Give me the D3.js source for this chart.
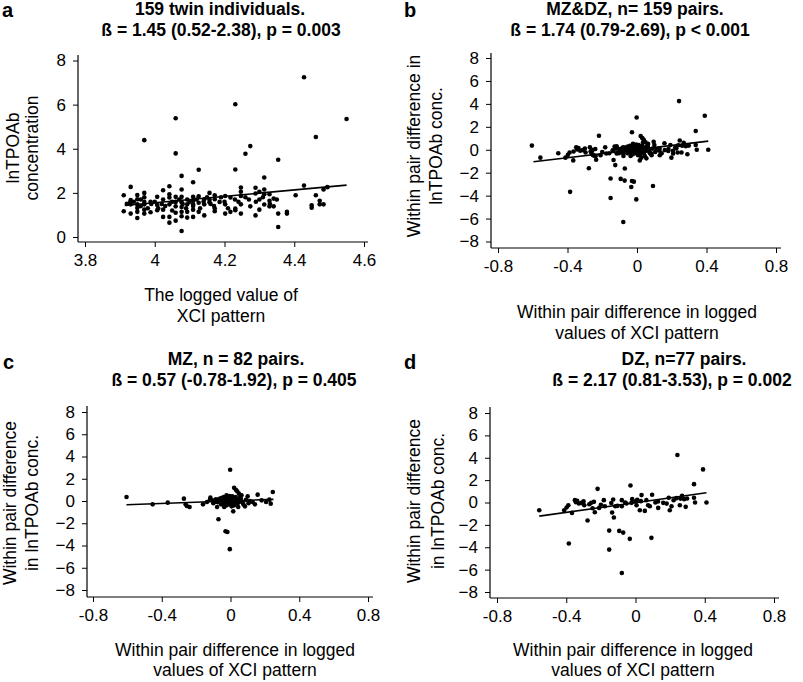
<!DOCTYPE html>
<html><head><meta charset="utf-8">
<script src="https://cdn.jsdelivr.net/npm/d3@7"></script>
<style>
body{margin:0;background:#fff}
svg{display:block}
text{font-family:"Liberation Sans",Arial,Helvetica,sans-serif;fill:#000}
</style>
</head><body>
<svg id="chart" width="803" height="682"></svg>
<script>
// ---------- DATA ----------
// Panel a: 159 twin individuals (x = logged XCI pattern, y = lnTPOAb concentration)
const xA = [3.911,3.911,3.931,3.931,3.931,3.931,3.929,3.950,3.950,3.950,3.950,3.950,3.970,3.970,3.970,3.970,3.970,3.970,3.970,3.988,3.988,4.007,4.007,4.007,4.024,4.024,4.024,4.024,4.042,4.042,4.042,4.042,4.042,4.042,4.060,4.060,4.060,4.060,4.060,4.060,4.077,4.077,4.077,4.077,4.077,4.077,4.077,4.077,4.093,4.093,4.093,4.093,4.110,4.110,4.110,4.110,4.110,4.110,4.126,4.126,4.126,4.126,4.142,4.142,4.142,4.157,4.157,4.157,4.172,4.172,4.172,4.172,4.186,4.202,4.202,4.202,4.217,4.217,4.231,4.231,4.231,4.231,4.247,4.247,4.247,4.247,4.247,4.260,4.274,4.274,4.289,4.289,4.289,4.300,4.300,4.300,4.314,4.314,4.314,4.314,4.329,4.329,4.329,4.341,4.341,4.354,4.354,4.354,4.379,4.379,4.404,4.428,4.428,4.450,4.450,4.462,4.462,4.473,4.473,4.484,4.484,4.495,4.550,
3.92,3.94,3.96,3.96,3.98,3.99,4.00,4.01,4.02,4.03,4.05,4.05,4.07,4.08,4.09,4.10,4.11,4.12,4.13,4.14,4.15,4.16,4.17,4.19,4.20,4.21,4.23,4.24,4.26,4.27,4.29,4.31,4.33,4.35,3.95,4.06];
const yA = [1.89,1.17,2.27,1.67,1.48,1.06,1.55,1.71,1.48,1.32,1.14,0.86,2.00,1.80,1.59,1.48,1.24,1.06,4.39,1.59,1.12,1.82,1.45,1.21,2.12,1.70,1.24,0.91,2.30,1.94,1.79,1.48,0.91,0.65,1.82,1.59,1.39,0.74,3.79,5.38,2.15,1.82,1.58,1.36,1.14,0.94,2.77,0.27,1.70,1.48,1.14,0.88,1.82,1.64,1.48,1.24,0.91,2.48,1.85,1.55,1.14,3.05,1.71,1.48,0.98,2.00,1.70,1.58,1.89,1.71,1.29,1.17,1.59,1.86,1.48,1.06,1.79,1.14,1.29,1.21,3.06,6.02,2.24,2.05,1.86,1.48,1.06,3.77,1.39,4.12,2.23,1.97,0.98,2.05,1.70,1.24,2.15,1.94,1.47,2.70,1.94,1.64,1.39,1.74,1.39,1.06,3.50,0.45,1.14,1.06,1.89,2.33,7.24,1.44,1.33,1.89,4.53,1.64,1.48,2.15,1.48,2.26,5.35,
1.50,1.60,1.40,1.70,1.30,1.50,1.60,1.30,1.50,1.40,1.60,1.20,1.70,1.50,1.30,1.60,1.40,1.70,1.30,1.60,1.80,1.50,1.40,1.80,1.60,1.30,1.70,1.60,1.80,1.70,1.60,1.80,1.50,1.70,1.90,1.10];

// Panel c: MZ pairs (within-pair differences)
const xC = [-0.605,-0.453,-0.365,-0.271,-0.261,-0.254,-0.238,-0.160,-0.137,-0.117,-0.105,-0.092,-0.078,-0.070,-0.062,-0.053,-0.043,-0.037,-0.029,-0.018,-0.023,-0.020,-0.014,-0.008,-0.004,-0.002,0.000,0.006,0.010,0.016,0.020,0.025,0.021,0.031,0.039,0.049,0.035,0.045,0.055,0.064,0.070,0.084,0.100,0.113,0.129,0.142,0.158,0.181,0.207,0.226,0.234,0.246,
-0.120,-0.100,-0.085,-0.075,-0.065,-0.055,-0.045,-0.040,-0.035,-0.030,-0.025,-0.015,-0.010,-0.005,0.000,0.005,0.010,0.015,0.020,0.025,0.030,0.040,0.045,0.050,0.060,0.075,0.090,0.105,-0.020,0.035];
const yC = [0.36,-0.30,-0.15,0.21,-0.30,-0.45,-0.54,-0.30,-0.09,0.30,0.06,-0.09,-0.54,-1.64,0.06,0.27,-0.24,-0.54,-2.72,-2.78,0.51,0.00,-0.30,0.30,-4.33,2.81,-0.09,-0.48,0.42,-0.93,-0.18,0.21,1.19,1.01,0.87,0.66,0.06,-0.54,0.30,0.51,-0.09,-0.48,0.42,0.00,-0.09,-0.30,0.57,0.06,-0.09,0.12,-0.24,0.81,
0.10,-0.20,0.15,-0.10,0.20,-0.30,0.10,0.35,-0.15,0.20,-0.40,0.15,-0.20,0.45,0.20,-0.30,0.05,0.30,-0.40,-0.05,0.35,-0.25,0.15,-0.10,0.20,-0.30,0.10,-0.20,0.05,-0.05];

// Panel d: DZ pairs (within-pair differences)
const xD = [-0.556,-0.412,-0.398,-0.388,-0.385,-0.367,-0.350,-0.344,-0.337,-0.327,-0.312,-0.296,-0.277,-0.267,-0.256,-0.248,-0.240,-0.235,-0.219,-0.210,-0.183,-0.177,-0.152,-0.152,-0.135,-0.129,-0.125,-0.117,-0.104,-0.094,-0.079,-0.071,-0.079,-0.079,-0.052,-0.033,-0.029,-0.019,-0.023,0.000,0.006,0.025,0.035,0.031,0.054,0.063,0.073,0.083,0.096,0.092,0.115,0.131,0.160,0.192,0.198,0.208,0.237,0.242,0.256,0.269,0.281,0.290,0.298,0.338,0.338,0.344,0.390,0.410,
-0.300,-0.200,-0.060,0.010,0.130,0.180,0.220,0.260,-0.140];
const yD = [-0.69,-0.69,-0.45,-0.24,-3.67,-0.93,0.21,0.03,0.15,-0.09,-0.03,-0.24,-1.61,-0.15,-0.03,-0.51,0.06,-0.87,1.22,-0.48,0.21,-0.33,-2.51,-4.21,-0.90,0.27,-1.34,-0.33,-0.30,-2.54,-0.33,-2.69,-6.30,0.21,-0.09,-3.25,1.52,0.30,-0.03,0.09,-0.24,-0.69,0.66,0.12,-0.75,0.21,-0.24,-0.33,0.69,-3.16,0.00,-0.48,-0.03,0.42,-0.69,-0.33,0.39,4.24,-0.24,0.60,0.30,-0.39,0.36,1.64,0.42,0.00,2.96,0.00,
0.10,-0.20,0.00,0.25,0.10,-0.10,0.20,0.35,-0.05];

// Panel b: MZ & DZ pairs together
const xB = xC.concat(xD);
const yB = yC.concat(yD);

// Fitted regression lines (endpoints)
const fitA = {x:[3.914,4.55], y:[1.43,2.35]};
const fitB = {x:[-0.596,0.41], y:[-1.04,0.75]};
const fitC = {x:[-0.605,0.25], y:[-0.34,0.15]};
const fitD = {x:[-0.556,0.41], y:[-1.22,0.87]};

// Tick values / labels
const xTicksA = [3.8,4.0,4.2,4.4,4.6];
const xTickLabelsA = ["3.8","4","4.2","4.4","4.6"];
const yTicksA = [0,2,4,6,8];
const xTicksDiff = [-0.8,-0.4,0,0.4,0.8];
const xTickLabelsDiff = ["-0.8","-0.4","0","0.4","0.8"];
const yTicksDiff = [-8,-6,-4,-2,0,2,4,6,8];

// Texts
const lettersP = ["a","b","c","d"];
const titlesA = ["159 twin individuals.","ß = 1.45 (0.52-2.38), p = 0.003"];
const titlesB = ["MZ&DZ,  n= 159 pairs.","ß = 1.74 (0.79-2.69), p < 0.001"];
const titlesC = ["MZ, n = 82 pairs.","ß = 0.57 (-0.78-1.92), p = 0.405"];
const titlesD = ["DZ, n=77 pairs.","ß = 2.17 (0.81-3.53), p = 0.002"];
const xLabA = ["The logged value of","XCI pattern"];
const xLabDiff = ["Within pair difference in logged","values of XCI pattern"];
const yLabA = ["lnTPOAb","concentration"];
const yLabB = ["Within pair difference in","lnTPOAb conc."];
const yLabCD = ["Within pair difference","in lnTPOAb conc."];

// ---------- DRAW ----------
const svg = d3.select("#chart");

function panel(p){
  const x = d3.scaleLinear().domain(p.xDomain).range(p.xRange);
  const y = d3.scaleLinear().domain(p.yDomain).range(p.yRange);
  const g = svg.append("g");

  // x axis
  const xa = d3.axisBottom(x).tickValues(p.xTicks)
      .tickFormat((d,i)=>p.xTickLabels[i]).tickSize(5).tickPadding(7);
  const gx = g.append("g").attr("transform",`translate(0,${p.axisY})`).call(xa);
  gx.select(".domain").remove();
  gx.selectAll("text").style("font-size","17px");
  gx.selectAll("line").attr("stroke","#000").attr("stroke-width",1);
  g.append("line").attr("x1",p.axisX).attr("x2",p.xEnd)
    .attr("y1",p.axisY).attr("y2",p.axisY).attr("stroke","#000").attr("stroke-width",1.2);

  // y axis
  const ya = d3.axisLeft(y).tickValues(p.yTicks).tickSize(5).tickPadding(7)
      .tickFormat(d3.format("d"));
  const gy = g.append("g").attr("transform",`translate(${p.axisX},0)`).call(ya);
  gy.select(".domain").remove();
  gy.selectAll("text").style("font-size","17px");
  gy.selectAll("line").attr("stroke","#000").attr("stroke-width",1);
  g.append("line").attr("x1",p.axisX).attr("x2",p.axisX)
    .attr("y1",p.yTop).attr("y2",p.axisY).attr("stroke","#000").attr("stroke-width",1.2);

  // points
  g.append("g").selectAll("circle").data(p.xs.map((v,i)=>[v,p.ys[i]])).join("circle")
    .attr("cx",d=>x(d[0])).attr("cy",d=>y(d[1])).attr("r",2.3).attr("fill","#000");

  // fit line
  g.append("line").attr("x1",x(p.fit.x[0])).attr("y1",y(p.fit.y[0]))
    .attr("x2",x(p.fit.x[1])).attr("y2",y(p.fit.y[1]))
    .attr("stroke","#000").attr("stroke-width",1.6);

  // panel letter
  g.append("text").attr("x",p.letterPos[0]).attr("y",p.letterPos[1])
    .style("font-size","20px").style("font-weight","bold").text(p.letter);

  // titles
  p.titles.forEach((t,i)=>{
    g.append("text").attr("x",p.titleX[i]).attr("y",p.titleY[i])
      .attr("text-anchor","middle").style("font-size","17.5px").style("font-weight","bold").text(t);
  });

  // x label
  p.xLab.forEach((t,i)=>{
    g.append("text").attr("x",p.xLabX).attr("y",p.xLabY[i])
      .attr("text-anchor","middle").style("font-size","17.5px").text(t);
  });

  // y label (rotated)
  p.yLab.forEach((t,i)=>{
    g.append("text").attr("transform",`translate(${p.yLabX[i]},${p.yLabY}) rotate(-90)`)
      .attr("text-anchor","middle").attr("dy","0.35em").style("font-size","17.5px").text(t);
  });
}

panel({letter:lettersP[0], letterPos:[2,17], titles:titlesA, titleX:[220,221], titleY:[15,36],
  xDomain:[3.8,4.6], xRange:[85,364], yDomain:[0,8], yRange:[237,60.5],
  axisX:78, axisY:242, yTop:55, xEnd:368,
  xTicks:xTicksA, xTickLabels:xTickLabelsA, yTicks:yTicksA,
  xs:xA, ys:yA, fit:fitA,
  xLab:xLabA, xLabX:221, xLabY:[301,322], yLab:yLabA, yLabX:[13,32], yLabY:148});

panel({letter:lettersP[1], letterPos:[404,17], titles:titlesB, titleX:[635,630], titleY:[15,36],
  xDomain:[-0.8,0.8], xRange:[498,776], yDomain:[-8,8], yRange:[241.5,58],
  axisX:491, axisY:248, yTop:53, xEnd:781,
  xTicks:xTicksDiff, xTickLabels:xTickLabelsDiff, yTicks:yTicksDiff,
  xs:xB, ys:yB, fit:fitB,
  xLab:xLabDiff, xLabX:637, xLabY:[318,339], yLab:yLabB, yLabX:[414,436], yLabY:146});

panel({letter:lettersP[2], letterPos:[3,369], titles:titlesC, titleX:[236,234], titleY:[365,386],
  xDomain:[-0.8,0.8], xRange:[93,368], yDomain:[-8,8], yRange:[590,412],
  axisX:87, axisY:597, yTop:406, xEnd:373,
  xTicks:xTicksDiff, xTickLabels:xTickLabelsDiff, yTicks:yTicksDiff,
  xs:xC, ys:yC, fit:fitC,
  xLab:xLabDiff, xLabX:235, xLabY:[656,676], yLab:yLabCD, yLabX:[10,32], yLabY:503});

panel({letter:lettersP[3], letterPos:[404,369], titles:titlesD, titleX:[684,672], titleY:[365,386],
  xDomain:[-0.8,0.8], xRange:[497,774], yDomain:[-8,8], yRange:[592,413],
  axisX:490, axisY:598, yTop:407, xEnd:779,
  xTicks:xTicksDiff, xTickLabels:xTickLabelsDiff, yTicks:yTicksDiff,
  xs:xD, ys:yD, fit:fitD,
  xLab:xLabDiff, xLabX:633, xLabY:[656,676], yLab:yLabCD, yLabX:[414,438], yLabY:501});
</script>
</body></html>
